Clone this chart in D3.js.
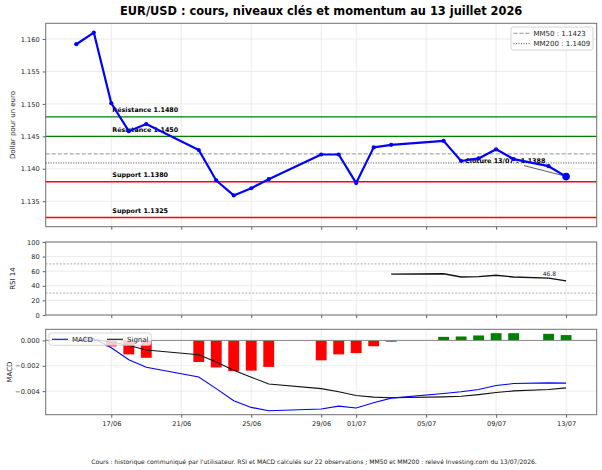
<!DOCTYPE html>
<html>
<head>
<meta charset="utf-8">
<script src="https://cdn.jsdelivr.net/npm/d3@7"></script>
<style>
  body { margin: 0; background: #fff; }
  svg { display: block; font-family: "DejaVu Sans", sans-serif; }
</style>
</head>
<body>
<script>
// séances (22 observations)
const dates = ["2026-06-15", "2026-06-16", "2026-06-17", "2026-06-18", "2026-06-19",
  "2026-06-22", "2026-06-23", "2026-06-24", "2026-06-25", "2026-06-26",
  "2026-06-29", "2026-06-30", "2026-07-01", "2026-07-02", "2026-07-03",
  "2026-07-06", "2026-07-07", "2026-07-08", "2026-07-09", "2026-07-10",
  "2026-07-12", "2026-07-13"]
const close = [1.1592, 1.1610, 1.1501, 1.1458, 1.1469, 1.1429, 1.1382, 1.1359, 1.1370, 1.1384,
  1.1422, 1.1422, 1.1378, 1.1433, 1.1437, 1.1443, 1.1412, 1.1416, 1.1430, 1.1415, 1.1404, 1.1388]
const rsi = [null, null, null, null, null, null, null, null, null, null, null, null, null, null,
  56.0, 56.5, 52.0, 52.5, 54.5, 52.0, 50.5, 46.8]
const macd = [0, 0.00014, -0.00058, -0.00153, -0.00212, -0.00288, -0.0038, -0.00476, -0.00528, -0.00555,
  -0.00541, -0.00518, -0.00533, -0.00492, -0.00455, -0.00419, -0.00405, -0.00387, -0.00356, -0.0034, -0.00335, -0.00337]
const signal = [0, 0.00003, -0.0001, -0.0004, -0.00075, -0.00113, -0.0017, -0.00235, -0.0029, -0.00343,
  -0.0038, -0.00405, -0.00434, -0.00447, -0.00452, -0.00445, -0.0044, -0.00427, -0.00411, -0.00398, -0.00387, -0.00374]
const hist = [0, 0.00011, -0.00047, -0.0011, -0.00137, -0.0017, -0.00213, -0.00242, -0.00238, -0.00209,
  -0.00157, -0.0011, -0.001, -0.00046, -0.0001, 0.00028, 0.00031, 0.00039, 0.00057, 0.00057, 0.00052, 0.00042]

const levels = [
  { label: "Résistance 1.1480", value: 1.1480, color: "#008000" },
  { label: "Résistance 1.1450", value: 1.1450, color: "#008000" },
  { label: "Support 1.1380", value: 1.1380, color: "#ff0000" },
  { label: "Support 1.1325", value: 1.1325, color: "#ff0000" }
]
const movingAvgs = [
  { label: "MM50 : 1.1423", value: 1.1423, dash: "4,2", color: "#888888" },
  { label: "MM200 : 1.1409", value: 1.1409, dash: "1,1.5", color: "#333333" }
]
const xTicks = ["2026-06-17", "2026-06-21", "2026-06-25", "2026-06-29", "2026-07-01",
  "2026-07-05", "2026-07-09", "2026-07-13"]
const priceTicks = [1.135, 1.140, 1.145, 1.150, 1.155, 1.160]
const rsiTicks = [0, 20, 40, 60, 80, 100]
const macdTicks = [-0.004, -0.002, 0]

const width = 602, height = 470
const left = 45.7, right = 596.7
const panels = {
  price: { top: 23.3, bottom: 226.7 },
  rsi: { top: 242, bottom: 315 },
  macd: { top: 329.3, bottom: 414.7 }
}
const tickFont = 6.67

const svg = d3.select("body").append("svg")
  .attr("width", width)
  .attr("height", height)

const parse = d3.utcParse("%Y-%m-%d")
const days = dates.map(parse)
const dayMs = 864e5
const x = d3.scaleUtc()
  .domain([+days[0] - 1.75 * dayMs, +days[days.length - 1] + 1.75 * dayMs])
  .range([left, right])

function padded(lo, hi) {
  const m = (hi - lo) * 0.05
  return [lo - m, hi + m]
}

const yPrice = d3.scaleLinear()
  .domain(padded(d3.min([...close, ...levels.map(d => d.value)]), d3.max([...close, ...levels.map(d => d.value)])))
  .range([panels.price.bottom, panels.price.top])
const yRsi = d3.scaleLinear().domain([0, 100]).range([panels.rsi.bottom, panels.rsi.top])
const yMacd = d3.scaleLinear()
  .domain(padded(d3.min([...macd, ...signal, ...hist]), d3.max([...macd, ...signal, ...hist])))
  .range([panels.macd.bottom, panels.macd.top])

function frame(p, y, ticks, fmt, label, labelX, showDates) {
  const g = svg.append("g")
  // grille
  g.append("g").selectAll("line").data(xTicks.map(parse)).join("line")
    .attr("x1", d => x(d)).attr("x2", d => x(d))
    .attr("y1", p.top).attr("y2", p.bottom)
    .attr("stroke", "#e6e6e6").attr("stroke-width", 0.8)
  g.append("g").selectAll("line").data(ticks).join("line")
    .attr("x1", left).attr("x2", right)
    .attr("y1", d => y(d)).attr("y2", d => y(d))
    .attr("stroke", "#e6e6e6").attr("stroke-width", 0.8)

  const ya = g.append("g")
    .attr("transform", `translate(${left},0)`)
    .call(d3.axisLeft(y).tickValues(ticks).tickFormat(fmt).tickSize(3).tickPadding(3))
  const xa = g.append("g")
    .attr("transform", `translate(0,${p.bottom})`)
    .call(d3.axisBottom(x).tickValues(xTicks.map(parse))
      .tickFormat(showDates ? d3.utcFormat("%d/%m") : () => "")
      .tickSize(3).tickPadding(3.5))
  for (const a of [ya, xa]) {
    a.select(".domain").remove()
    a.selectAll("text").attr("font-size", tickFont).attr("fill", "#222")
      .attr("font-family", "DejaVu Sans")
    a.selectAll("line").attr("stroke", "#333").attr("stroke-width", 0.8)
  }

  svg.append("text")
    .attr("transform", `translate(${labelX},${(p.top + p.bottom) / 2}) rotate(-90)`)
    .attr("text-anchor", "middle")
    .attr("font-size", 7)
    .attr("fill", "#222")
    .text(label)
  return g
}

function border(p) {
  svg.append("rect")
    .attr("x", left).attr("y", p.top)
    .attr("width", right - left).attr("height", p.bottom - p.top)
    .attr("fill", "none").attr("stroke", "#707070").attr("stroke-width", 1)
}

// ---- cours ----
frame(panels.price, yPrice, priceTicks, d3.format(".3f"), "Dollar pour un euro", 15, false)

svg.append("g").selectAll("line").data(levels).join("line")
  .attr("x1", left).attr("x2", right)
  .attr("y1", d => yPrice(d.value)).attr("y2", d => yPrice(d.value))
  .attr("stroke", d => d.color).attr("stroke-width", 1.4)
svg.append("g").selectAll("line").data(movingAvgs).join("line")
  .attr("x1", left).attr("x2", right)
  .attr("y1", d => yPrice(d.value)).attr("y2", d => yPrice(d.value))
  .attr("stroke", d => d.color).attr("stroke-width", 0.9)
  .attr("stroke-dasharray", d => d.dash)
svg.append("g").selectAll("text").data(levels).join("text")
  .attr("x", x(parse("2026-06-17")) + 1)
  .attr("y", d => yPrice(d.value) - 4.5)
  .attr("font-size", 6.4)
  .attr("font-weight", "bold")
  .text(d => d.label)

// annotation clôture
const lastX = x(days[days.length - 1]), lastY = yPrice(close[close.length - 1])
svg.append("text")
  .attr("x", lastX - 101).attr("y", lastY - 13.5)
  .attr("font-size", 6.4)
  .attr("font-weight", "bold")
  .text(`Clôture 13/07 : ${close[close.length - 1].toFixed(4)}`)
svg.append("line")
  .attr("x1", lastX - 42).attr("y1", lastY - 11)
  .attr("x2", lastX - 3).attr("y2", lastY - 1)
  .attr("stroke", "#333").attr("stroke-width", 0.8)

const priceLine = d3.line().x((d, i) => x(days[i])).y(d => yPrice(d))
svg.append("path")
  .datum(close)
  .attr("d", priceLine)
  .attr("fill", "none")
  .attr("stroke", "#0000ff")
  .attr("stroke-width", 2.2)
  .attr("stroke-linejoin", "round")
svg.append("g").selectAll("circle").data(close).join("circle")
  .attr("cx", (d, i) => x(days[i]))
  .attr("cy", d => yPrice(d))
  .attr("r", (d, i) => i === close.length - 1 ? 3.8 : 2.1)
  .attr("fill", "#0000ff")
border(panels.price)

// légende MM
const lg = svg.append("g").attr("transform", "translate(511,27)")
lg.append("rect").attr("width", 82).attr("height", 23).attr("rx", 2)
  .attr("fill", "#fff").attr("fill-opacity", 0.8).attr("stroke", "#cccccc").attr("stroke-width", 0.8)
movingAvgs.forEach((d, i) => {
  const yy = 6.3 + i * 10.4
  lg.append("line").attr("x1", 2.5).attr("x2", 18.5).attr("y1", yy).attr("y2", yy)
    .attr("stroke", d.color).attr("stroke-width", 0.9).attr("stroke-dasharray", d.dash)
  lg.append("text").attr("x", 22.5).attr("y", yy).attr("dy", "0.35em")
    .attr("font-size", 7).attr("fill", "#222").text(d.label)
})

// ---- RSI ----
frame(panels.rsi, yRsi, rsiTicks, d3.format("d"), "RSI 14", 15, false)
svg.append("g").selectAll("line").data([70, 30]).join("line")
  .attr("x1", left).attr("x2", right)
  .attr("y1", d => yRsi(d)).attr("y2", d => yRsi(d))
  .attr("stroke", "#999").attr("stroke-width", 0.8).attr("stroke-dasharray", "2,1.5")
const rsiLine = d3.line().defined(d => d !== null).x((d, i) => x(days[i])).y(d => yRsi(d))
svg.append("path")
  .datum(rsi)
  .attr("d", rsiLine)
  .attr("fill", "none")
  .attr("stroke", "#111")
  .attr("stroke-width", 1.4)
svg.append("text")
  .attr("x", x(days[days.length - 1]) - 10).attr("y", yRsi(rsi[rsi.length - 1]) - 4.5)
  .attr("text-anchor", "end")
  .attr("font-size", 6)
  .attr("fill", "#222")
  .text(rsi[rsi.length - 1].toFixed(1))
border(panels.rsi)

// ---- MACD ----
frame(panels.macd, yMacd, macdTicks, d3.format(".3f"), "MACD", 12, true)
const barW = x(+days[0] + 0.62 * dayMs) - x(days[0])
svg.append("g").selectAll("rect").data(hist).join("rect")
  .attr("x", (d, i) => x(days[i]) - barW / 2)
  .attr("y", d => yMacd(Math.max(0, d)))
  .attr("width", barW)
  .attr("height", d => Math.abs(yMacd(d) - yMacd(0)))
  .attr("fill", d => d >= 0 ? "#008000" : "#ff0000")
svg.append("line")
  .attr("x1", left).attr("x2", right)
  .attr("y1", yMacd(0)).attr("y2", yMacd(0))
  .attr("stroke", "#888").attr("stroke-width", 1)
const seriesLine = y => d3.line().x((d, i) => x(days[i])).y(d => y(d))
svg.append("path").datum(signal).attr("d", seriesLine(yMacd))
  .attr("fill", "none").attr("stroke", "#111").attr("stroke-width", 1.1)
svg.append("path").datum(macd).attr("d", seriesLine(yMacd))
  .attr("fill", "none").attr("stroke", "#0000ff").attr("stroke-width", 1.1)

const ml = svg.append("g").attr("transform", "translate(49,333)")
ml.append("rect").attr("width", 102).attr("height", 12.3).attr("rx", 2)
  .attr("fill", "#fff").attr("fill-opacity", 0.8).attr("stroke", "#cccccc").attr("stroke-width", 0.8)
;[{ label: "MACD", color: "#0000ff", x0: 3 }, { label: "Signal", color: "#111", x0: 58 }].forEach(d => {
  ml.append("line").attr("x1", d.x0).attr("x2", d.x0 + 16).attr("y1", 6.3).attr("y2", 6.3)
    .attr("stroke", d.color).attr("stroke-width", 1.1)
  ml.append("text").attr("x", d.x0 + 20).attr("y", 6.3).attr("dy", "0.35em")
    .attr("font-size", 7).attr("fill", "#222").text(d.label)
})
border(panels.macd)

// titre et source
svg.append("text")
  .attr("x", (left + right) / 2).attr("y", 15)
  .attr("text-anchor", "middle")
  .attr("font-size", 11.4)
  .attr("font-weight", "bold")
  .text("EUR/USD : cours, niveaux clés et momentum au 13 juillet 2026")
svg.append("text")
  .attr("x", 314).attr("y", 464)
  .attr("text-anchor", "middle")
  .attr("font-size", 6.05)
  .attr("fill", "#222")
  .text("Cours : historique communiqué par l'utilisateur. RSI et MACD calculés sur 22 observations ; MM50 et MM200 : relevé Investing.com du 13/07/2026.")
</script>
</body>
</html>
